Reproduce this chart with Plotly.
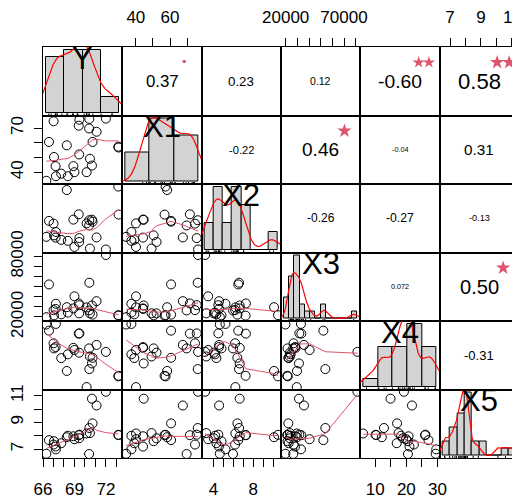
import numpy as np
import plotly.graph_objects as go
from plotly.subplots import make_subplots

# ---------------- data ----------------
var_names = ["Y", "X1", "X2", "X3", "X4", "X5"]

Y  = [66.32, 66.57, 67.01, 67.05, 67.20, 67.23, 67.74, 68.27, 68.37, 68.90, 69.00, 69.41,
      69.45, 69.47, 70.16, 70.42, 70.40, 70.48, 70.67, 70.73, 71.11, 72.00, 73.19, 73.21]
X1 = [34.3, 60.6, 74.6, 50.4, 44.2, 37.4, 39.1, 58.3, 37.4, 44.2, 40.1, 71.6,
      52.1, 75.6, 40.1, 76.2, 69.7, 49.2, 44.6, 60.6, 67.5, 76.4, 57.4, 56.8]
X2 = [4.63, 6.49, 6.17, 4.80, 4.54, 5.20, 4.28, 10.1, 4.16, 6.64, 3.45, 7.26,
      4.03, 4.48, 6.20, 6.57, 5.96, 3.26, 6.63, 6.40, 4.56, 3.15, 10.5, 7.23]
X3 = [19800, 52300, 26800, 21600, 28000, 33100, 22600, 29700, 24300, 28500, 40500, 33400,
      23600, 31700, 29500, 54000, 26500, 23600, 31400, 22300, 35700, 81500, 21800, 21300]
X4 = [29.4, 27.1, 22.4, 20.5, 21.0, 29.6, 16.9, 12.1, 18.3, 20.7, 19.9, 26.0,
      18.9, 26.1, 6.1, 12.8, 20.5, 17.5, 14.9, 17.0, 21.8, 19.2, 10.1, 10.3]
X5 = [6.65, 7.67, 7.34, 7.59, 7.19, 6.98, 7.44, 7.89, 8.00, 7.96, 7.74, 8.04,
      7.81, 8.08, 8.17, 8.58, 6.63, 8.20, 10.78, 8.93, 10.27, 11.30, 8.07, 8.05]
data = [Y, X1, X2, X3, X4, X5]

# histogram breaks and counts per variable
hist_breaks = [
    [66, 68, 70, 72, 74],
    [20, 40, 60, 80],
    [3, 4, 5, 6, 7, 8, 9, 10, 11],
    [15000, 20000, 25000, 30000, 35000, 40000, 45000, 50000, 55000, 60000, 65000, 70000, 75000, 80000, 85000],
    [5, 10, 15, 20, 25, 30],
    [6.5, 7.0, 7.5, 8.0, 8.5, 9.0, 9.5, 10.0, 10.5, 11.0, 11.5],
]
hist_counts = [
    [7, 8, 8, 2],
    [5, 11, 8],
    [3, 7, 3, 7, 5, 0, 0, 2],
    [3, 6, 9, 2, 1, 1, 0, 2, 0, 0, 0, 0, 0, 1],
    [1, 5, 5, 8, 5],
    [2, 4, 6, 9, 2, 2, 0, 0, 1, 1],
]

# correlations shown in the upper panels
cor_pairs = [(0, 1), (0, 2), (0, 3), (0, 4), (0, 5), (1, 2), (1, 3), (1, 4), (1, 5),
             (2, 3), (2, 4), (2, 5), (3, 4), (3, 5), (4, 5)]
cor_r = [0.37, 0.23, 0.12, -0.60, 0.58, -0.22, 0.46, -0.04, 0.31, -0.26, -0.27, -0.13, 0.072, 0.50, -0.31]
cor_txt = ["0.37", "0.23", "0.12", "-0.60", "0.58", "-0.22", "0.46", "-0.04", "0.31",
           "-0.26", "-0.27", "-0.13", "0.072", "0.50", "-0.31"]
cor_sig = [".", "", "", "**", "**", "", "*", "", "", "", "", "", "", "*", ""]

# axis tick values / labels
tick_vals = {
    0: [66, 67, 68, 69, 70, 71, 72, 73],
    1: [40, 50, 60, 70],
    2: [4, 5, 6, 7, 8, 9, 10],
    3: [20000, 30000, 40000, 50000, 60000, 70000, 80000],
    4: [10, 15, 20, 25, 30],
    5: [7, 8, 9, 10, 11],
}
tick_text_x = {
    0: ["66", "", "", "69", "", "", "72", ""],
    1: ["40", "", "60", ""],
    2: ["4", "", "", "", "8", "", ""],
    3: ["20000", "", "", "", "", "70000", ""],
    4: ["10", "", "20", "", "30"],
    5: ["7", "", "9", "", "11"],
}
tick_text_y = {
    1: ["40", "", "", "70"],
    3: ["20000", "", "", "", "", "", "80000"],
    5: ["7", "", "9", "", "11"],
}

# ---------------- layout constants ----------------
usr = [[66.0, 73.57], [32.1, 78.5], [2.8, 10.8], [16000, 84000], [5.2, 30.7], [6.33, 11.47]]
FONT = "Liberation Sans, Arial, sans-serif"
# the page body has an 8px margin, so the figure is 8px smaller and starts at (8, 8)
W, H = 512, 491
ML, MR, MT, MB = 35, 1, 39, 41
CW = (W - ML - MR) / 6.0
CH = (H - MT - MB) / 6.0
SMOOTH = "#DF536B"

EM = {c: 0.556 for c in "0123456789"}
EM.update({".": 0.278, "-": 0.333, "*": 0.389})


def em_width(s):
    return sum(EM.get(c, 0.556) for c in s)


def lowess(x, y, f=2 / 3, it=3):
    x = np.asarray(x, float)
    y = np.asarray(y, float)
    o = np.argsort(x, kind="mergesort")
    x, y = x[o], y[o]
    n = len(x)
    ns = max(2, min(n, int(f * n + 1e-7)))
    rw = np.ones(n)
    ys = np.zeros(n)
    rng = x[-1] - x[0]
    for k in range(it + 1):
        for i in range(n):
            d = np.abs(x - x[i])
            h = max(np.sort(d)[ns - 1], 1e-12)
            w = np.where(d <= 0.999 * h, (1 - np.clip(d / h, 0, 1) ** 3) ** 3, 0.0)
            w = np.where(d <= 0.001 * h, 1.0, w) * rw
            sw = w.sum()
            if sw <= 0:
                ys[i] = y[i]
                continue
            w = w / sw
            a = (w * x).sum()
            c = (w * (x - a) ** 2).sum()
            if np.sqrt(c) > 0.001 * rng:
                b = (x[i] - a) / c
                ww = w * (b * (x - a) + 1)
            else:
                ww = w
            ys[i] = (ww * y).sum()
        if k == it:
            break
        res = y - ys
        cmad = 6 * np.median(np.abs(res))
        if cmad < 1e-7:
            break
        u = np.abs(res) / cmad
        rw = np.where(u <= 0.999, (1 - u ** 2) ** 2, 0.0)
        rw = np.where(u <= 0.001, 1.0, rw)
    return x, ys


def kde(v):
    v = np.asarray(v, float)
    n = len(v)
    sd = v.std(ddof=1)
    q75, q25 = np.percentile(v, [75, 25])
    lo = min(sd, (q75 - q25) / 1.34) if q75 > q25 else sd
    bw = 0.9 * lo * n ** -0.2
    xs = np.linspace(v.min() - 3 * bw, v.max() + 3 * bw, 512)
    ys = np.exp(-0.5 * ((xs[:, None] - v[None, :]) / bw) ** 2).sum(1) / (n * bw * np.sqrt(2 * np.pi))
    return xs, ys


fig = make_subplots(rows=6, cols=6, horizontal_spacing=0, vertical_spacing=0)


def axname(i, j, kind):
    idx = i * 6 + j + 1
    return kind + ("" if idx == 1 else str(idx))


def frac_to(lim, f):
    return lim[0] + f * (lim[1] - lim[0])


base_axis = dict(showline=True, mirror=True, linecolor="black", linewidth=1, automargin=False,
                 showgrid=False, zeroline=False, showticklabels=False, ticks="")

annotations = []
hist_ranges = {}

for i in range(6):
    for j in range(6):
        if i == j:
            br = np.array(hist_breaks[i], float)
            cnt = np.array(hist_counts[i], float)
            wd = np.diff(br)
            dens = cnt / (cnt.sum() * wd)
            mids = (br[:-1] + br[1:]) / 2
            M = dens.max()
            span = br[-1] - br[0]
            xr = [br[0] - 0.04 * span, br[-1] + 0.04 * span]
            yr = [-0.04 * M, 1.04 * M]
            hist_ranges[i] = (xr, yr)
            fig.add_trace(go.Bar(x=mids, y=dens, width=wd, marker=dict(color="#D3D3D3", line=dict(color="black", width=1)),
                                 hoverinfo="skip"), row=i + 1, col=j + 1)
            dx, dy = kde(data[i])
            fig.add_trace(go.Scatter(x=dx, y=dy, mode="lines", line=dict(color="red", width=1.2), hoverinfo="skip"),
                          row=i + 1, col=j + 1)
            rx, ry = [], []
            for v in data[i]:
                rx += [v, v, None]
                ry += [yr[0], yr[0] + 0.03 * (yr[1] - yr[0]), None]
            fig.add_trace(go.Scatter(x=rx, y=ry, mode="lines", line=dict(color="black", width=1), hoverinfo="skip"),
                          row=i + 1, col=j + 1)
        elif i > j:
            fig.add_trace(go.Scatter(x=data[j], y=data[i], mode="markers",
                                     marker=dict(symbol="circle-open", size=9, color="black", line=dict(width=1)),
                                     hoverinfo="skip"), row=i + 1, col=j + 1)
            sx, sy = lowess(data[j], data[i])
            fig.add_trace(go.Scatter(x=sx, y=sy, mode="lines", line=dict(color=SMOOTH, width=1), hoverinfo="skip"),
                          row=i + 1, col=j + 1)
        else:
            fig.add_trace(go.Scatter(x=[usr[j][0]], y=[usr[i][0]], mode="markers", marker=dict(opacity=0),
                                     hoverinfo="skip"), row=i + 1, col=j + 1)

# significance marks (stars / dot) as markers in the upper panels
for (i, j), r, txt, sig in zip(cor_pairs, cor_r, cor_txt, cor_sig):
    if not sig:
        continue
    sfs = 0.8 * CW / em_width(txt)
    if sig == ".":
        fig.add_trace(go.Scatter(x=[frac_to(usr[j], 0.78)], y=[frac_to(usr[i], 0.79)], mode="markers",
                                 marker=dict(symbol="circle", size=3.5, color=SMOOTH, line=dict(width=0)),
                                 hoverinfo="skip"), row=i + 1, col=j + 1)
    else:
        n = len(sig)
        step = 0.389 * sfs * 0.95
        xs = [frac_to(usr[j], 0.8 + (k - (n - 1) / 2) * step / CW) for k in range(n)]
        ys = [frac_to(usr[i], 0.775)] * n
        fig.add_trace(go.Scatter(x=xs, y=ys, mode="markers",
                                 marker=dict(symbol="star", size=0.33 * sfs, color=SMOOTH, line=dict(width=0)),
                                 hoverinfo="skip"), row=i + 1, col=j + 1)

# axes
for i in range(6):
    for j in range(6):
        xa = dict(base_axis)
        ya = dict(base_axis)
        if i == j:
            xa["range"], ya["range"] = hist_ranges[i]
        else:
            xa["range"] = usr[j]
            ya["range"] = usr[i]
        tf = dict(family=FONT, size=17, color="black")
        if i == 5 and j in (0, 2, 4):
            xa.update(ticks="outside", ticklen=8, tickcolor="black", tickwidth=1, showticklabels=True,
                      tickvals=tick_vals[j], ticktext=tick_text_x[j], tickfont=tf, ticklabelstandoff=8,
                      ticklabeloverflow="allow")
        if i == 0 and j in (1, 3, 5):
            xa.update(side="top", ticks="outside", ticklen=8, tickcolor="black", tickwidth=1, showticklabels=True,
                      tickvals=tick_vals[j], ticktext=tick_text_x[j], tickfont=tf, ticklabelstandoff=8,
                      ticklabeloverflow="allow")
        if j == 0 and i in (1, 3, 5):
            ya.update(ticks="outside", ticklen=8, tickcolor="black", tickwidth=1, showticklabels=True,
                      tickvals=tick_vals[i], ticktext=tick_text_y[i], tickfont=tf, tickangle=-90,
                      ticklabelstandoff=4, ticklabeloverflow="allow")
        fig.layout[axname(i, j, "xaxis")].update(xa)
        fig.layout[axname(i, j, "yaxis")].update(ya)

# correlation texts
for (i, j), r, txt in zip(cor_pairs, cor_r, cor_txt):
    x0 = j / 6.0
    y0 = 1 - (i + 1) / 6.0
    fs = 0.8 * CW * (abs(r) + 0.3) / 1.3 / em_width(txt)
    annotations.append(dict(x=x0 + 0.5 / 6, y=y0 + 0.5 / 6, xref="paper", yref="paper", text=txt,
                            showarrow=False, xanchor="center", yanchor="middle",
                            font=dict(family=FONT, size=fs, color="black")))

# variable names on the diagonal
for k, nm in enumerate(var_names):
    x0 = k / 6.0
    y0 = 1 - (k + 1) / 6.0
    annotations.append(dict(x=x0 + 0.5 / 6, y=y0 + (0.5 + 1 / 3) / 6, xref="paper", yref="paper", text=nm,
                            showarrow=False, xanchor="center", yanchor="middle",
                            font=dict(family=FONT, size=31, color="black")))

fig.update_layout(width=W, height=H, margin=dict(l=ML, r=MR, t=MT, b=MB), showlegend=False,
                  plot_bgcolor="white", paper_bgcolor="white", bargap=0, annotations=annotations)

fig.write_html("out.html")
